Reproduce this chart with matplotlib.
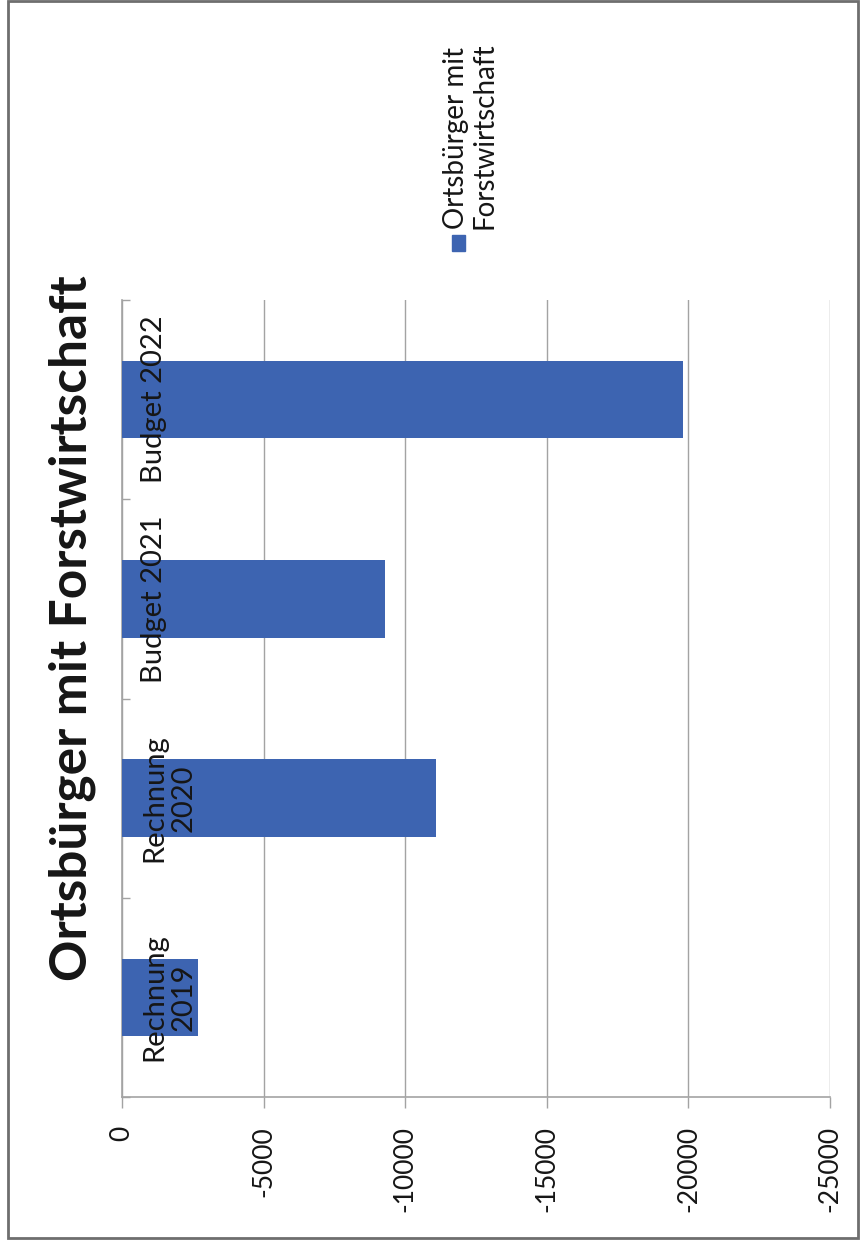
import matplotlib
matplotlib.use("Agg")
import matplotlib.pyplot as plt
from matplotlib.patches import Rectangle
import numpy as np

plt.rcParams['font.family'] = ['Lato', 'DejaVu Sans']

# data read from the (rotated) scan
categories = ['Rechnung\n2019', 'Rechnung\n2020', 'Budget 2021', 'Budget 2022']
values = [-2670, -11100, -9300, -19800]
x_ticks = [0, -5000, -10000, -15000, -20000, -25000]
title = 'Ortsbürger mit Forstwirtschaft'
legend_label = 'Ortsbürger mit\nForstwirtschaft'

bar_color = '#3d64b1'
grid_color = '#a3a3a3'
text_color = '#161616'

W, H = 861, 1247


def fx(x):
    return x / W


def fy(y):
    return 1 - y / H


fig = plt.figure(figsize=(W / 100, H / 100), dpi=100)
fig.patch.set_facecolor('white')

# plot area (pixels of the reference)
left, right, top, bottom = 122, 830, 300, 1097
ax = fig.add_axes([fx(left), fy(bottom), (right - left) / W, (bottom - top) / H])

pos = np.arange(len(categories))
ax.barh(pos, values, height=0.39, color=bar_color, zorder=3)

ax.set_xlim(0, -25000)
ax.set_ylim(-0.5, len(categories) - 0.5)
ax.set_xticks(x_ticks)
ax.set_xticklabels([str(v) for v in x_ticks], rotation=90, fontsize=19,
                   color=text_color)
ax.tick_params(axis='x', direction='out', length=8, width=1, color=grid_color, pad=13)
ax.set_yticks([])
ax.set_yticks(np.arange(-0.5, len(categories)), minor=True)
ax.tick_params(axis='y', which='minor', direction='in', length=6, width=1, color=grid_color)
ax.grid(axis='x', color=grid_color, linewidth=1, zorder=0)

for s in ['top', 'right']:
    ax.spines[s].set_visible(False)
for s in ['left', 'bottom']:
    ax.spines[s].set_color(grid_color)
    ax.spines[s].set_linewidth(1.2)

# category labels sit inside the plot next to the zero line
for p, lab in zip(pos, categories):
    ax.annotate(lab, xy=(0, p), xytext=(14, 0), textcoords='offset points',
                rotation=90, ha='left', va='center', multialignment='center',
                fontsize=21, linespacing=1.15, zorder=4, color=text_color)

# title
fig.text(fx(72), fy(628), title, rotation=90, ha='center', va='center',
         fontsize=37, fontweight='bold', color=text_color)

# legend drawn by hand (rotated)
fig.patches.append(Rectangle((fx(452), fy(251)), 13 / W, 16 / H,
                             transform=fig.transFigure, color=bar_color))
fig.text(fx(443), fy(229), legend_label, rotation=90, ha='left', va='bottom',
         multialignment='left', fontsize=20, linespacing=1.1, color=text_color)

# outer frame
fig.patches.append(Rectangle((fx(8), fy(1238)), 850 / W, 1237 / H,
                             transform=fig.transFigure, fill=False,
                             edgecolor='#6e6e6e', linewidth=2))

fig.savefig('out.png', dpi=100)
